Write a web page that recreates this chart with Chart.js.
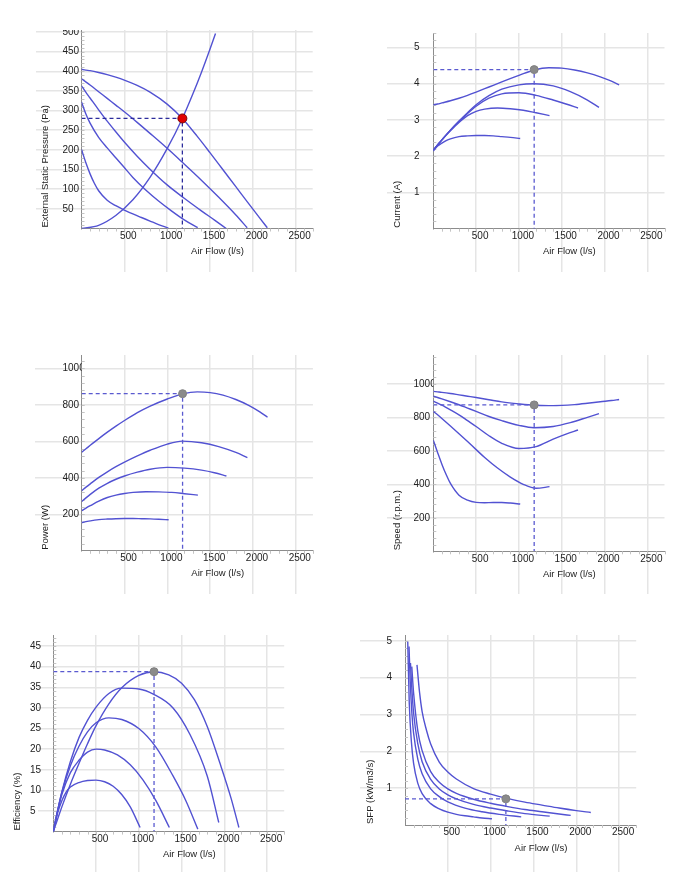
<!DOCTYPE html>
<html>
<head>
<meta charset="utf-8">
<script src="https://cdn.jsdelivr.net/npm/chart.js@4"></script>
<style>
  body { margin: 0; background: #fff; width: 694px; height: 877px; position: relative; overflow: hidden; }
  canvas { position: absolute; }
</style>
</head>
<body>
<canvas id="pressure"></canvas>
<canvas id="current"></canvas>
<canvas id="power"></canvas>
<canvas id="speed"></canvas>
<canvas id="efficiency"></canvas>
<canvas id="sfp"></canvas>
<script>
// ---- data ----
var opFlow = 1178;
var xTicks = [500, 1000, 1500, 2000, 2500];

// air flow samples (l/s) for the five fan speeds
var flow1 = [0, 50, 100, 150, 200, 300, 400, 500, 600, 700, 800, 900, 1015];
var flow2 = [0, 50, 100, 200, 300, 400, 500, 600, 750, 900, 1050, 1200, 1357];
var flow3 = [0, 50, 100, 200, 300, 400, 500, 650, 800, 1000, 1200, 1400, 1550, 1690];
var flow4 = [0, 50, 100, 200, 300, 400, 500, 650, 800, 1000, 1175, 1400, 1600, 1800, 1935];
var flow5 = [0, 50, 100, 200, 300, 400, 500, 650, 800, 1000, 1178, 1350, 1500, 1650, 1800, 1950, 2080, 2170];

// external static pressure (Pa)
var press1 = [201, 168, 139, 115, 96, 72, 58, 47, 37, 28, 19, 10, 1];
var press2 = [322, 292, 268, 232, 205, 180, 155, 130, 98, 70, 45, 22, 2];
var press3 = [363, 347, 332, 302, 273, 246, 220, 184, 151, 111, 77, 45, 22, 0];
var press4 = [381, 373, 365, 348, 331, 314, 297, 270, 242, 204, 169, 123, 80, 35, 2];
var press5 = [405, 403, 401.5, 397, 391.5, 385, 377.5, 364, 347, 316.5, 280, 235, 193, 150, 107, 64, 27, 2];
var systemFlow = [0, 200, 400, 600, 800, 1000, 1178, 1300, 1400, 1500, 1565];
var systemPress = [0, 8, 33, 73, 130, 203, 280, 342, 397, 456, 496];
var pressTicks = [50, 100, 150, 200, 250, 300, 350, 400, 450, 500];

// current (A)
var amps1 = [2.14, 2.28, 2.36, 2.43, 2.48, 2.54, 2.56, 2.57, 2.57, 2.56, 2.54, 2.52, 2.49];
var amps2 = [2.17, 2.31, 2.45, 2.70, 2.93, 3.12, 3.24, 3.30, 3.33, 3.31, 3.27, 3.20, 3.12];
var amps3 = [2.17, 2.31, 2.45, 2.72, 2.96, 3.18, 3.38, 3.60, 3.72, 3.75, 3.68, 3.55, 3.44, 3.33];
var amps4 = [2.17, 2.31, 2.45, 2.72, 2.97, 3.20, 3.42, 3.67, 3.85, 3.97, 4.00, 3.94, 3.78, 3.55, 3.35];
var amps5 = [3.42, 3.44, 3.47, 3.53, 3.60, 3.68, 3.77, 3.91, 4.05, 4.23, 4.38, 4.44, 4.43, 4.38, 4.30, 4.19, 4.07, 3.97];
var ampTicks = [1, 2, 3, 4, 5];

// power (W)
var watts1 = [155, 160, 164, 168, 171, 174, 176, 177, 177, 176, 175, 173, 170];
var watts2 = [220, 234, 247, 272, 292, 305, 314, 320, 324, 323, 320, 313, 305];
var watts3 = [270, 290, 309, 343, 370, 392, 410, 431, 447, 457, 453, 442, 428, 410];
var watts4 = [330, 349, 367, 402, 433, 461, 486, 520, 551, 585, 601, 592, 571, 539, 511];
var watts5 = [540, 559, 578, 615, 650, 683, 714, 757, 793, 832, 860, 871, 867, 853, 829, 797, 761, 732];
var wattTicks = [200, 400, 600, 800, 1000];

// speed (r.p.m.)
var rpm1 = [663, 590, 520, 458, 405, 335, 305, 292, 290, 291, 291, 288, 282];
var rpm2 = [836, 815, 793, 748, 702, 655, 607, 560, 497, 443, 400, 376, 386];
var rpm3 = [896, 885, 873, 845, 815, 780, 745, 690, 645, 614, 625, 670, 700, 724];
var rpm4 = [926, 918, 910, 893, 875, 855, 835, 805, 780, 752, 738, 745, 768, 800, 822];
var rpm5 = [955, 952, 949, 942, 934, 926, 918, 905, 892, 880, 872, 870, 871, 876, 884, 893, 900, 906];
var rpmTicks = [200, 400, 600, 800, 1000];

// efficiency (%)
var eff1 = [0, 4.5, 7.5, 9.6, 10.8, 11.9, 12.4, 12.5, 12.1, 11.0, 9.0, 6.0, 1.0];
var eff2 = [0, 5, 9, 14.3, 17.3, 19.3, 20, 19.8, 18.6, 16.2, 12.5, 7.5, 1.0];
var eff3 = [0, 5, 9.5, 16, 20.7, 24.2, 26.4, 27.6, 27.2, 25, 20.5, 13.5, 7.5, 0.6];
var eff4 = [0, 5, 9.6, 17, 22.8, 27, 30.2, 33.5, 34.8, 34.6, 33.3, 30, 23.5, 13.5, 2.2];
var eff5 = [0, 3, 6, 11.5, 16.5, 21.3, 25.7, 31, 34.9, 37.9, 38.8, 38, 36, 32, 25.5, 16.5, 8, 1];
var effTicks = [5, 10, 15, 20, 25, 30, 35, 40, 45];

// specific fan power (kW/m3/s)
var sfpFlow1 = [32, 50, 75, 100, 150, 200, 300, 400, 500, 600, 700, 800, 900, 1015];
var sfp1 = [4.98, 3.3, 2.25, 1.68, 1.13, 0.85, 0.58, 0.44, 0.35, 0.29, 0.25, 0.22, 0.19, 0.17];
var sfpFlow2 = [47, 60, 80, 100, 150, 200, 300, 400, 500, 700, 900, 1100, 1357];
var sfp2 = [4.85, 3.95, 3.05, 2.5, 1.78, 1.39, 0.98, 0.77, 0.63, 0.46, 0.36, 0.29, 0.22];
var sfpFlow3 = [64, 80, 100, 150, 200, 300, 400, 500, 600, 800, 1000, 1200, 1400, 1690];
var sfp3 = [4.4, 3.7, 3.05, 2.2, 1.72, 1.24, 0.98, 0.82, 0.71, 0.56, 0.46, 0.38, 0.31, 0.24];
var sfpFlow4 = [79, 100, 150, 200, 300, 400, 500, 600, 800, 1000, 1200, 1400, 1600, 1800, 1935];
var sfp4 = [4.3, 3.6, 2.55, 2.02, 1.45, 1.16, 0.98, 0.86, 0.70, 0.59, 0.5, 0.42, 0.36, 0.3, 0.26];
var sfpFlow5 = [140, 170, 200, 250, 300, 400, 500, 600, 800, 1000, 1178, 1400, 1600, 1800, 2000, 2170];
var sfp5 = [4.35, 3.6, 3.08, 2.58, 2.2, 1.71, 1.44, 1.25, 0.99, 0.84, 0.73, 0.62, 0.54, 0.46, 0.39, 0.34];
var sfpTicks = [1, 2, 3, 4, 5];

// ---- styling ----
Chart.defaults.font.family = "'Liberation Sans', Arial, sans-serif";
Chart.defaults.font.size = 10;
Chart.defaults.color = "#222222";

var curveColor = "#5252d2";
var gridColor = "#e5e5e5";
var axisColor = "#8c8c8c";

function pts(xs, ys) {
  return xs.map(function (x, i) { return { x: x, y: ys[i] }; });
}

// axis titles are drawn by hand so they can sit where the original puts them
var axisText = {
  id: "axisText",
  afterDraw: function (chart, args, o) {
    var ctx = chart.ctx, a = chart.chartArea;
    ctx.save();
    ctx.fillStyle = "#222222";
    ctx.font = "9.5px 'Liberation Sans', Arial, sans-serif";
    ctx.textBaseline = "middle";
    ctx.textAlign = "center";
    ctx.fillText(o.xTitle, a.left + 136, a.bottom + 23);
    ctx.translate(o.yTitleX, a.bottom - 1);
    ctx.rotate(-Math.PI / 2);
    ctx.textAlign = "left";
    ctx.fillText(o.yTitle, 0, 0);
    ctx.restore();
  }
};

var minorTicks = {
  id: "minorTicks",
  beforeDatasetsDraw: function (chart, args, o) {
    var ctx = chart.ctx, a = chart.chartArea;
    var xs = chart.scales.x, ys = chart.scales.y;
    ctx.save();
    ctx.strokeStyle = "#c4c4c4";
    ctx.lineWidth = 1;
    ctx.beginPath();
    for (var v = 100; v <= xs.max; v += 100) {
      var px = Math.round(xs.getPixelForValue(v)) + 0.5;
      ctx.moveTo(px, a.bottom);
      ctx.lineTo(px, a.bottom + 3);
    }
    for (var i = 1; i * o.yStep <= ys.max; i++) {
      var py = Math.round(ys.getPixelForValue(i * o.yStep)) + 0.5;
      ctx.moveTo(a.left, py);
      ctx.lineTo(a.left + 3, py);
    }
    ctx.stroke();
    ctx.restore();
  }
};

function makeChart(id, box, cfg) {
  var canvas = document.getElementById(id);
  canvas.width = box.cw;
  canvas.height = box.gridBottom - box.cy;
  canvas.style.left = box.cx + "px";
  canvas.style.top = box.cy + "px";

  var datasets = [];
  // operating point marker on top
  datasets.push({
    data: [{ x: opFlow, y: cfg.opY }],
    pointRadius: cfg.dotR,
    pointBackgroundColor: cfg.dotFill,
    pointBorderColor: cfg.dotStroke,
    pointBorderWidth: 1,
    showLine: false
  });
  datasets.push({
    data: [{ x: 0, y: cfg.opY }, { x: opFlow, y: cfg.opY }, { x: opFlow, y: 0 }],
    borderColor: cfg.dashColor,
    borderWidth: 1.3,
    borderDash: [4, 3],
    pointRadius: 0,
    showLine: true,
    tension: 0
  });
  cfg.curves.forEach(function (c) {
    datasets.push({
      data: pts(c[0], c[1]),
      borderColor: curveColor,
      borderWidth: 1.4,
      pointRadius: 0,
      showLine: true,
      cubicInterpolationMode: "monotone"
    });
  });

  var xTick = box.gridBottom - box.B;
  var yTick = box.L - box.gridLeft;

  return new Chart(canvas, {
    type: "scatter",
    data: { datasets: datasets },
    plugins: [axisText, minorTicks],
    options: {
      responsive: false,
      animation: false,
      events: [],
      layout: {
        autoPadding: false,
        padding: {
          left: box.labelLeft - box.cx,
          top: box.T - box.cy,
          right: box.cx + box.cw - box.R,
          bottom: 0
        }
      },
      plugins: {
        legend: { display: false },
        tooltip: { enabled: false },
        axisText: { xTitle: "Air Flow (l/s)", yTitle: cfg.yTitle, yTitleX: box.yTitleX - box.cx },
        minorTicks: { yStep: cfg.yMinor }
      },
      scales: {
        x: {
          type: "linear",
          min: 0,
          max: 2700,
          afterBuildTicks: function (s) { s.ticks = xTicks.map(function (v) { return { value: v }; }); },
          afterFit: function (s) { s.height = xTick; },
          grid: { color: gridColor, lineWidth: 1.5, tickLength: xTick },
          border: { color: axisColor, width: 1 },
          ticks: {
            autoSkip: false,
            maxRotation: 0,
            padding: 1.5 - xTick,
            labelOffset: 4,
            callback: function (v) { return String(v); }
          }
        },
        y: {
          type: "linear",
          min: 0,
          max: cfg.yMax,
          afterBuildTicks: function (s) { s.ticks = cfg.yTicks.map(function (v) { return { value: v }; }); },
          afterFit: function (s) { s.width = box.L - box.labelLeft; },
          grid: { color: gridColor, lineWidth: 1.5, tickLength: yTick },
          border: { color: axisColor, width: 1 },
          ticks: {
            autoSkip: false,
            crossAlign: "far",
            padding: -20,
            callback: function (v) { return String(v); }
          }
        }
      }
    }
  });
}

makeChart("pressure",
  { cx: 0, cy: 30, cw: 347, gridBottom: 272, L: 81.5, R: 312.7, T: 30, B: 228.5, labelLeft: 62.5, gridLeft: 36, yTitleX: 45 },
  {
    yTitle: "External Static Pressure (Pa)", yMax: 505, yTicks: pressTicks, yMinor: 10, opY: 280,
    dotR: 4.5, dotFill: "#e00000", dotStroke: "#7a0000", dashColor: "#2c2c9c",
    curves: [[flow1, press1], [flow2, press2], [flow3, press3], [flow4, press4], [flow5, press5], [systemFlow, systemPress]]
  });

makeChart("current",
  { cx: 347, cy: 30, cw: 347, gridBottom: 272, L: 433.3, R: 664.5, T: 33, B: 228.7, labelLeft: 414, gridLeft: 387, yTitleX: 397 },
  {
    yTitle: "Current (A)", yMax: 5.4, yTicks: ampTicks, yMinor: 0.2, opY: 4.39,
    dotR: 4, dotFill: "#8a8a8a", dotStroke: "#808080", dashColor: "#5a5ad0",
    curves: [[flow1, amps1], [flow2, amps2], [flow3, amps3], [flow4, amps4], [flow5, amps5]]
  });

makeChart("power",
  { cx: 0, cy: 350, cw: 347, gridBottom: 594, L: 81.7, R: 312.9, T: 355, B: 550.8, labelLeft: 62.5, gridLeft: 35, yTitleX: 45 },
  {
    yTitle: "Power (W)", yMax: 1073, yTicks: wattTicks, yMinor: 40, opY: 861,
    dotR: 4, dotFill: "#8a8a8a", dotStroke: "#808080", dashColor: "#5a5ad0",
    curves: [[flow1, watts1], [flow2, watts2], [flow3, watts3], [flow4, watts4], [flow5, watts5]]
  });

makeChart("speed",
  { cx: 347, cy: 350, cw: 347, gridBottom: 594, L: 433.3, R: 664.5, T: 355, B: 551.3, labelLeft: 413.5, gridLeft: 387, yTitleX: 397.7 },
  {
    yTitle: "Speed (r.p.m.)", yMax: 1172, yTicks: rpmTicks, yMinor: 40, opY: 874,
    dotR: 4, dotFill: "#8a8a8a", dotStroke: "#808080", dashColor: "#5a5ad0",
    curves: [[flow1, rpm1], [flow2, rpm2], [flow3, rpm3], [flow4, rpm4], [flow5, rpm5]]
  });

makeChart("efficiency",
  { cx: 0, cy: 630, cw: 347, gridBottom: 872, L: 53.3, R: 284.2, T: 635, B: 831.6, labelLeft: 30, gridLeft: 38, yTitleX: 17 },
  {
    yTitle: "Efficiency (%)", yMax: 47.7, yTicks: effTicks, yMinor: 1, opY: 38.8,
    dotR: 4, dotFill: "#8a8a8a", dotStroke: "#808080", dashColor: "#5a5ad0",
    curves: [[flow1, eff1], [flow2, eff2], [flow3, eff3], [flow4, eff4], [flow5, eff5]]
  });

makeChart("sfp",
  { cx: 347, cy: 630, cw: 347, gridBottom: 872, L: 405, R: 636.2, T: 635, B: 825, labelLeft: 386.5, gridLeft: 360, yTitleX: 370 },
  {
    yTitle: "SFP (kW/m3/s)", yMax: 5.16, yTicks: sfpTicks, yMinor: 0.2, opY: 0.71,
    dotR: 4, dotFill: "#8a8a8a", dotStroke: "#808080", dashColor: "#5a5ad0",
    curves: [[sfpFlow1, sfp1], [sfpFlow2, sfp2], [sfpFlow3, sfp3], [sfpFlow4, sfp4], [sfpFlow5, sfp5]]
  });
</script>
</body>
</html>
